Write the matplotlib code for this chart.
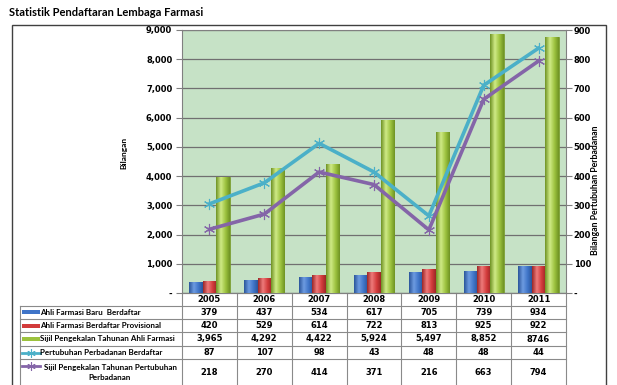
import numpy as np
import matplotlib.pyplot as plt
from matplotlib.patches import Rectangle
from matplotlib.lines import Line2D
from matplotlib.ticker import FuncFormatter
from matplotlib.colors import LinearSegmentedColormap

years = ['2005', '2006', '2007', '2008', '2009', '2010', '2011']
baru = [379, 437, 534, 617, 705, 739, 934]
provisional = [420, 529, 614, 722, 813, 925, 922]
sijil_ahli = [3965, 4292, 4422, 5924, 5497, 8852, 8746]
pertubuhan = [87, 107, 98, 43, 48, 48, 44]
sijil_pertubuhan = [218, 270, 414, 371, 216, 663, 794]

sijil_ahli_txt = ['3,965', '4,292', '4,422', '5,924', '5,497', '8,852', '8746']

names = ['Ahli Farmasi Baru  Berdaftar',
         'Ahli Farmasi Berdaftar Provisional',
         'Sijil Pengekalan Tahunan Ahli Farmasi',
         'Pertubuhan Perbadanan Berdaftar',
         'Sijil Pengekalan Tahunan Pertubuhan\nPerbadanan']

c_blue = '#3f74c8'
c_red = '#d23b3b'
c_green = '#9cc23e'
c_teal = '#4bb0c8'
c_purple = '#8465a8'
c_bg = '#c6e2c6'
c_grid = '#707070'

# cylinder-like shading for the bars
shades = {
    c_blue: ['#2b569a', '#6d9be0', '#3f74c8', '#2b569a'],
    c_red: ['#9c2727', '#ee7a7a', '#d23b3b', '#9c2727'],
    c_green: ['#6f9324', '#cfea86', '#9cc23e', '#6f9324'],
}

narrow = ['Lato', 'DejaVu Sans']

W, H = 617, 385
fig = plt.figure(figsize=(W / 100, H / 100), dpi=100)

# plot area in pixels
L, R, T, B = 182, 566, 30, 293
ax = fig.add_axes([L / W, 1 - B / H, (R - L) / W, (B - T) / H])
ax.set_facecolor(c_bg)

x = np.arange(len(years))
bw = 0.245
grad = np.linspace(0, 1, 64).reshape(1, -1)
for off, vals, c in [(-bw, baru, c_blue), (0, provisional, c_red), (bw, sijil_ahli, c_green)]:
    bars = ax.bar(x + off, vals, bw, color=c, edgecolor=shades[c][0], linewidth=0.5, zorder=3)
    cmap = LinearSegmentedColormap.from_list('cyl', list(zip([0, 0.35, 0.7, 1], shades[c])))
    for b in bars:
        im = ax.imshow(grad, extent=[b.get_x(), b.get_x() + b.get_width(), 0, b.get_height()],
                       aspect='auto', cmap=cmap, zorder=3.5, origin='lower')
        im.set_clip_path(b)

ax.set_xlim(-0.5, len(years) - 0.5)
ax.set_ylim(0, 9000)
ax.set_yticks(np.arange(0, 9001, 1000))
ax.yaxis.set_major_formatter(FuncFormatter(lambda v, p: '-' if v == 0 else f'{int(v):,}'))
ax.grid(axis='y', color=c_grid, linewidth=0.9, zorder=1)
ax.set_xticks([])
ax.tick_params(axis='y', length=4, width=0.8, color='#808080', labelsize=6, pad=3)
for lab in ax.get_yticklabels():
    lab.set_fontweight('bold')
for s in ax.spines.values():
    s.set_color('#808080')
    s.set_linewidth(0.8)

ax2 = ax.twinx()
ax2.set_ylim(0, 900)
ax2.set_yticks(np.arange(0, 901, 100))
ax2.yaxis.set_major_formatter(FuncFormatter(lambda v, p: '-' if v == 0 else f'{int(v)}'))
ax2.tick_params(axis='y', length=4, width=0.8, color='#808080', labelsize=6, pad=1.5)
for lab in ax2.get_yticklabels():
    lab.set_fontweight('bold')
for s in ax2.spines.values():
    s.set_visible(False)

# stacked lines (Excel stacked line)
stack_teal = np.array(sijil_pertubuhan) + np.array(pertubuhan)
ax2.plot(x, stack_teal, color=c_teal, linewidth=2.6, marker=(6, 2, 0),
         markersize=8, markeredgewidth=0.8, zorder=5)
ax2.plot(x, sijil_pertubuhan, color=c_purple, linewidth=2.6, marker=(6, 2, 0),
         markersize=8, markeredgewidth=0.8, zorder=5)

# axis titles
fig.text(124 / W, 1 - 153 / H, 'Bilangan', fontsize=6, fontweight='bold',
         family=narrow, rotation=90, ha='center', va='center')
fig.text(596 / W, 1 - 190 / H, 'Bilangan Pertubuhan Perbadanan', fontsize=6.3,
         fontweight='bold', family=narrow, rotation=90, ha='center', va='center')

# title
fig.text(9 / W, 1 - 12 / H, 'Statistik Pendaftaran Lembaga Farmasi', fontsize=8,
         fontweight='bold', family=narrow, ha='left', va='center')

# outer chart frame
fig.patches.append(Rectangle((12 / W, -0.05), (606 - 12) / W, 1 - 25 / H + 0.05,
                             transform=fig.transFigure, fill=False,
                             edgecolor='#404040', linewidth=1.0))

# data table below the plot
tr = ax.get_xaxis_transform()


def yf(py):
    return (B - py) / (B - T)


def xd(px):
    return (px - L) / ((R - L) / len(years)) - 0.5


rows = [305.7, 319.0, 332.3, 345.7, 359.3, 386.0]
tcol = '#8a8a8a'
ax.add_line(Line2D([-0.5, 6.5], [yf(B), yf(B)], transform=tr, color=tcol, lw=0.8, clip_on=False))
for r in rows[:-1]:
    ax.add_line(Line2D([xd(20), 6.5], [yf(r), yf(r)], transform=tr, color=tcol, lw=0.8, clip_on=False))
ax.add_line(Line2D([xd(20), xd(20)], [yf(rows[0]), yf(390)], transform=tr, color=tcol, lw=0.8, clip_on=False))
for k in range(len(years) + 1):
    ax.add_line(Line2D([k - 0.5, k - 0.5], [yf(B), yf(390)], transform=tr, color=tcol, lw=0.8, clip_on=False))

for i, yr in enumerate(years):
    ax.text(i, yf((B + rows[0]) / 2), yr, transform=tr, ha='center', va='center',
            fontsize=6, fontweight='bold', clip_on=False)

table_vals = [[str(v) for v in baru], [str(v) for v in provisional], sijil_ahli_txt,
              [str(v) for v in pertubuhan], [str(v) for v in sijil_pertubuhan]]
for j in range(5):
    yc = yf((rows[j] + rows[j + 1]) / 2)
    for i in range(len(years)):
        ax.text(i, yc, table_vals[j][i], transform=tr, ha='center', va='center',
                fontsize=6, fontweight='bold', clip_on=False)
    if j < 4:
        ax.text(xd(40), yc, names[j], transform=tr, ha='left', va='center',
                fontsize=5.8, fontweight='bold', family=narrow, clip_on=False)
    else:
        ax.text(xd(110), yc, names[j], transform=tr, ha='center', va='center',
                fontsize=5.8, fontweight='bold', family=narrow, clip_on=False,
                linespacing=1.6)

# legend keys inside the label cells
for j, c in enumerate([c_blue, c_red, c_green]):
    yc = (rows[j] + rows[j + 1]) / 2
    ax.add_patch(Rectangle((xd(22), yf(yc + 2)), xd(40) - xd(22), yf(yc - 2) - yf(yc + 2),
                           transform=tr, facecolor=c, edgecolor='none', clip_on=False))
for yc_px, c in [((rows[3] + rows[4]) / 2, c_teal), (366, c_purple)]:
    yc = yf(yc_px)
    ax.add_line(Line2D([xd(22), xd(40)], [yc, yc], transform=tr, color=c, lw=2,
                       clip_on=False))
    ax.add_line(Line2D([xd(31)], [yc], transform=tr, color=c, marker=(6, 2, 0),
                       markersize=6, markeredgewidth=0.8, clip_on=False))

fig.savefig('out.png', dpi=100)
